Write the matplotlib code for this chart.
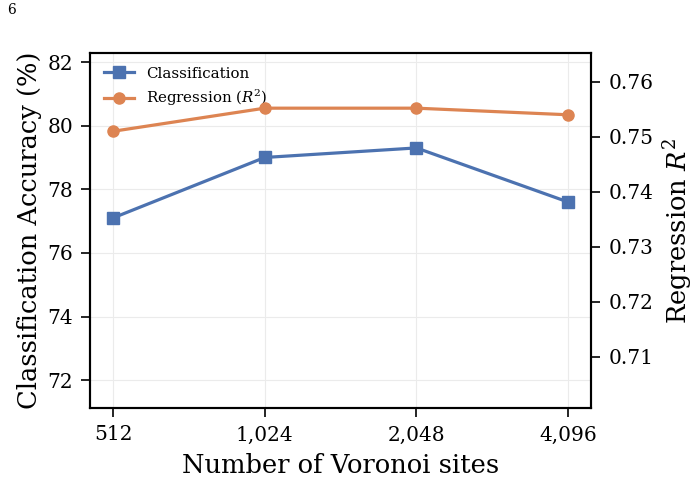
import matplotlib
matplotlib.use("Agg")
import matplotlib.pyplot as plt

sites = ["512", "1,024", "2,048", "4,096"]
cls_acc = [77.1, 79.0, 79.3, 77.6]
reg_r2 = [0.751, 0.7552, 0.7552, 0.754]

plt.rcParams["font.family"] = "DejaVu Serif"
plt.rcParams["mathtext.fontset"] = "dejavuserif"

blue = "#4C72B0"
orange = "#DD8452"

fig = plt.figure(figsize=(7, 4.83), dpi=100)
ax = fig.add_axes([0.129, 0.155, 0.715, 0.735])
ax2 = ax.twinx()

x = list(range(len(sites)))
l1, = ax.plot(x, cls_acc, color=blue, marker="s", lw=2.3, ms=8, label="Classification")
l2, = ax2.plot(x, reg_r2, color=orange, marker="o", lw=2.3, ms=8, label="Regression ($R^2$)")

ax.set_xlim(-0.15, 3.15)
ax.set_xticks(x)
ax.set_xticklabels(sites)
ax.set_ylim(71.12, 82.28)
ax.set_yticks([72, 74, 76, 78, 80, 82])
ax2.set_ylim(0.7007, 0.7652)
ax2.set_yticks([0.71, 0.72, 0.73, 0.74, 0.75, 0.76])

ax.grid(True, color="#ebebeb", lw=0.8)
ax.set_axisbelow(True)
for a in (ax, ax2):
    for s in a.spines.values():
        s.set_linewidth(1.5)
        s.set_color("black")
    a.tick_params(labelsize=14.5, length=6.5, width=1.2, pad=6)

ax.set_xlabel("Number of Voronoi sites", fontsize=18.5, labelpad=6)
ax.set_ylabel("Classification Accuracy (%)", fontsize=18.5, labelpad=4)
ax2.set_ylabel("Regression $R^2$", fontsize=18.5, labelpad=6)

ax.legend(handles=[l1, l2], loc="upper left", fontsize=10.8, frameon=False)

fig.text(0.01, 0.97, "6", fontsize=10)

fig.savefig("out.png", dpi=100)
